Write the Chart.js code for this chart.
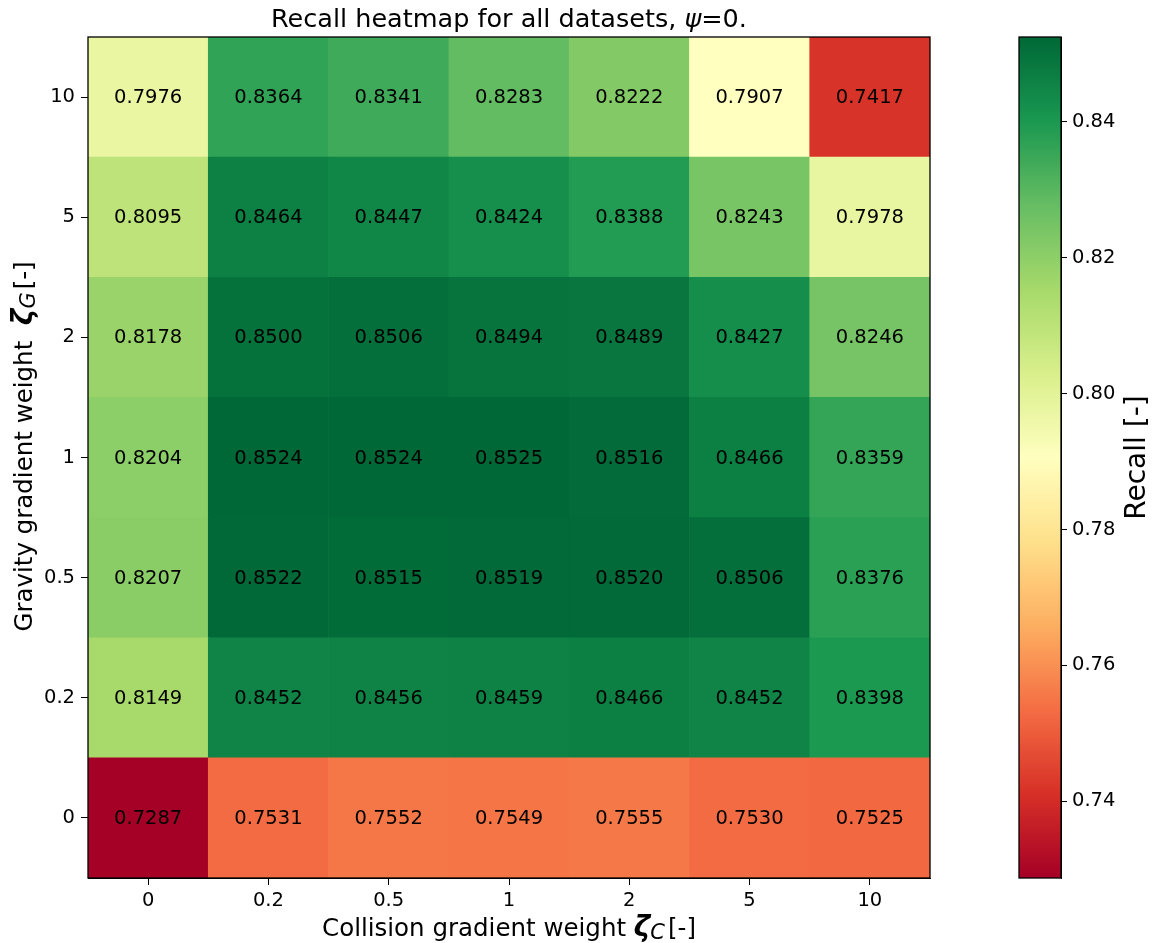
<!DOCTYPE html>
<html>
<head>
<meta charset="utf-8">
<script src="https://cdn.jsdelivr.net/npm/chart.js@4/dist/chart.umd.min.js"></script>
<style>
  html, body { margin: 0; padding: 0; background: #fff; }
  #wrap { position: relative; width: 1160px; height: 943px; overflow: hidden; }
  #main { position: absolute; left: 0; top: 0; }
  #cbar { position: absolute; left: 1000px; top: 0; }
</style>
</head>
<body>
<div id="wrap">
  <canvas id="main" width="960" height="943"></canvas>
  <canvas id="cbar" width="160" height="943"></canvas>
</div>
<script>
// Collision gradient weight ζ_C (columns) and gravity gradient weight ζ_G (rows, bottom to top)
const colLabels = ['0', '0.2', '0.5', '1', '2', '5', '10'];
const rowLabels = ['0', '0.2', '0.5', '1', '2', '5', '10'];

// Recall per ζ_G row, one value per ζ_C column
const recallG0   = [0.7287, 0.7531, 0.7552, 0.7549, 0.7555, 0.7530, 0.7525];
const recallG0_2 = [0.8149, 0.8452, 0.8456, 0.8459, 0.8466, 0.8452, 0.8398];
const recallG0_5 = [0.8207, 0.8522, 0.8515, 0.8519, 0.8520, 0.8506, 0.8376];
const recallG1   = [0.8204, 0.8524, 0.8524, 0.8525, 0.8516, 0.8466, 0.8359];
const recallG2   = [0.8178, 0.8500, 0.8506, 0.8494, 0.8489, 0.8427, 0.8246];
const recallG5   = [0.8095, 0.8464, 0.8447, 0.8424, 0.8388, 0.8243, 0.7978];
const recallG10  = [0.7976, 0.8364, 0.8341, 0.8283, 0.8222, 0.7907, 0.7417];

const colorbarTicks = [0.74, 0.76, 0.78, 0.80, 0.82, 0.84];

const rows = [recallG0, recallG0_2, recallG0_5, recallG1, recallG2, recallG5, recallG10];
const allVals = rows.flat();
const vmin = Math.min(...allVals);
const vmax = Math.max(...allVals);

// RdYlGn colour map stops
const RDYLGN = [
  [165, 0, 38], [215, 48, 39], [244, 109, 67], [253, 174, 97], [254, 224, 139],
  [255, 255, 191], [217, 239, 139], [166, 217, 106], [102, 189, 99], [26, 152, 80], [0, 104, 55]
];
function cmap(v) {
  let t = (v - vmin) / (vmax - vmin);
  t = Math.max(0, Math.min(1, t));
  const p = t * (RDYLGN.length - 1);
  const i = Math.min(Math.floor(p), RDYLGN.length - 2);
  const f = p - i;
  const a = RDYLGN[i], b = RDYLGN[i + 1];
  const c = a.map((x, k) => Math.round(x + (b[k] - x) * f));
  return `rgb(${c[0]},${c[1]},${c[2]})`;
}

const FONT = 'DejaVu Sans';
const tickFont = { family: FONT, size: 19.5 };

// Draws a run of differently styled text pieces (used for the math symbols)
function drawRich(ctx, parts, x, y, rot, align) {
  ctx.save();
  ctx.translate(x, y);
  ctx.rotate(rot);
  ctx.textBaseline = 'alphabetic';
  ctx.textAlign = 'left';
  ctx.fillStyle = '#000';
  const widths = parts.map(p => { ctx.font = p.f; return ctx.measureText(p.t).width + (p.gap || 0); });
  const total = widths.reduce((s, w) => s + w, 0);
  let cx = align === 'center' ? -total / 2 : 0;
  parts.forEach((p, i) => {
    ctx.font = p.f;
    ctx.fillText(p.t, cx, p.dy || 0);
    cx += widths[i];
  });
  ctx.restore();
}

const cellText = {
  id: 'cellText',
  afterDatasetsDraw(chart) {
    const ctx = chart.ctx;
    ctx.save();
    ctx.font = `19.5px "${FONT}"`;
    ctx.fillStyle = '#000';
    ctx.textAlign = 'center';
    ctx.textBaseline = 'middle';
    chart.data.datasets.forEach((ds, r) => {
      const meta = chart.getDatasetMeta(r);
      meta.data.forEach((el, c) => {
        const cy = (el.y + el.base) / 2;
        ctx.fillText(rows[r][c].toFixed(4), el.x, cy + 1);
      });
    });
    ctx.restore();
  }
};

const frame = {
  id: 'frame',
  afterDraw(chart) {
    const a = chart.chartArea;
    const ctx = chart.ctx;
    ctx.save();
    ctx.strokeStyle = '#000';
    ctx.lineWidth = 1.3;
    ctx.strokeRect(a.left, a.top, a.right - a.left, a.bottom - a.top);
    ctx.restore();
  }
};

const mainLabels = {
  id: 'mainLabels',
  afterDraw(chart) {
    const ctx = chart.ctx;
    const a = chart.chartArea;
    const cx = (a.left + a.right) / 2;
    const cy = (a.top + a.bottom) / 2;
    drawRich(ctx, [
      { t: 'Recall heatmap for all datasets, ', f: `25.5px "${FONT}"` },
      { t: 'ψ', f: `italic 25.5px "${FONT}"` },
      { t: '=0.', f: `25.5px "${FONT}"` }
    ], cx, 27, 0, 'center');
    drawRich(ctx, [
      { t: 'Collision gradient weight ', f: `24.5px "${FONT}"` },
      { t: 'ζ', f: `italic 600 28px "${FONT}"` },
      { t: 'C', f: `italic 21px "${FONT}"`, dy: 3, gap: 3 },
      { t: '[-]', f: `24.5px "${FONT}"` }
    ], cx, 936, 0, 'center');
    drawRich(ctx, [
      { t: 'Gravity gradient weight  ', f: `24.5px "${FONT}"` },
      { t: 'ζ', f: `italic 600 28px "${FONT}"` },
      { t: 'G', f: `italic 21px "${FONT}"`, dy: 3, gap: 3 },
      { t: '[-]', f: `24.5px "${FONT}"` }
    ], 32, cy - 11, -Math.PI / 2, 'center');
  }
};

new Chart(document.getElementById('main'), {
  type: 'bar',
  data: {
    labels: colLabels,
    datasets: rows.map((vals, r) => ({
      label: rowLabels[r],
      data: vals.map(() => [r, r + 1]),
      backgroundColor: vals.map(cmap),
      borderWidth: 0,
      grouped: false,
      barPercentage: 1,
      categoryPercentage: 1
    }))
  },
  options: {
    responsive: false,
    animation: false,
    layout: { padding: { top: 37, right: 30, left: 0, bottom: 0 } },
    plugins: { legend: { display: false }, tooltip: { enabled: false } },
    scales: {
      x: {
        type: 'category',
        offset: true,
        grid: { display: true, offset: false, drawOnChartArea: false, tickLength: 7, color: '#000' },
        border: { display: true, color: '#000' },
        ticks: { font: tickFont, color: '#000', padding: 4, maxRotation: 0 },
        afterFit(s) { s.height = 65; }
      },
      y: {
        type: 'linear',
        min: 0,
        max: rowLabels.length,
        afterBuildTicks(s) { s.ticks = rowLabels.map((_, i) => ({ value: i + 0.5 })); },
        grid: { display: true, drawOnChartArea: false, tickLength: 7, color: '#000' },
        border: { display: true, color: '#000' },
        ticks: { font: tickFont, color: '#000', padding: 6, callback: (v, i) => rowLabels[i] },
        afterFit(s) { s.width = 88; }
      }
    }
  },
  plugins: [cellText, frame, mainLabels]
});

const cbarLabel = {
  id: 'cbarLabel',
  afterDraw(chart) {
    const a = chart.chartArea;
    drawRich(chart.ctx, [{ t: 'Recall [-]', f: `28px "${FONT}"` }], 145, (a.top + a.bottom) / 2, -Math.PI / 2, 'center');
  }
};

new Chart(document.getElementById('cbar'), {
  type: 'bar',
  data: {
    labels: ['Recall'],
    datasets: [{
      data: [[vmin, vmax]],
      backgroundColor(ctx) {
        const ch = ctx.chart;
        if (!ch.chartArea) return '#fff';
        const ys = ch.scales.y;
        const g = ch.ctx.createLinearGradient(0, ys.getPixelForValue(vmin), 0, ys.getPixelForValue(vmax));
        for (let i = 0; i <= 40; i++) g.addColorStop(i / 40, cmap(vmin + (vmax - vmin) * i / 40));
        return g;
      },
      borderWidth: 0,
      barPercentage: 1,
      categoryPercentage: 1
    }]
  },
  options: {
    responsive: false,
    animation: false,
    layout: { padding: { top: 37, left: 19, right: 0, bottom: 65 } },
    plugins: { legend: { display: false }, tooltip: { enabled: false } },
    scales: {
      x: { display: false },
      y: {
        position: 'right',
        min: vmin,
        max: vmax,
        afterBuildTicks(s) { s.ticks = colorbarTicks.map(v => ({ value: v })); },
        grid: { display: true, drawOnChartArea: false, tickLength: 6, color: '#000' },
        border: { display: true, color: '#000' },
        ticks: { font: tickFont, color: '#000', padding: 5, callback: v => v.toFixed(2) },
        afterFit(s) { s.width = 99; }
      }
    }
  },
  plugins: [frame, cbarLabel]
});
</script>
</body>
</html>
